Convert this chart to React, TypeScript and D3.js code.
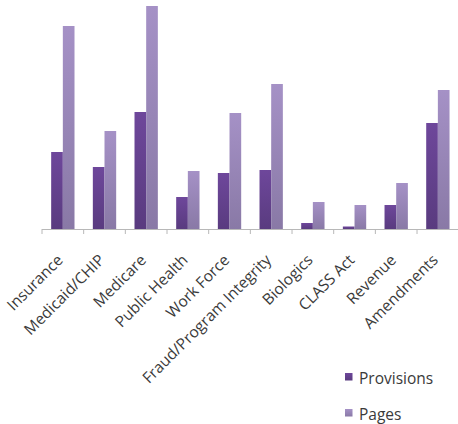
import React from "react";
import * as d3 from "d3";

const categories = [
  "Insurance",
  "Medicaid/CHIP",
  "Medicare",
  "Public Health",
  "Work Force",
  "Fraud/Program Integrity",
  "Biologics",
  "CLASS Act",
  "Revenue",
  "Amendments",
];
const seriesNames = ["Provisions", "Pages"];
const provisions = [77, 62, 117, 32, 56, 59, 6, 2.5, 24, 106];
const pages = [203, 98, 223, 58, 116, 145, 27, 24, 46, 139];

const W = 458;
const H = 424;
const baseY = 229;
const left = 42;
const right = 458.7;

const seriesColors: Record<string, [string, string]> = {
  Provisions: ["#6e479b", "#593b7f"],
  Pages: ["#a591c6", "#8979a6"],
};

export default function App() {
  const x = d3
    .scaleBand<string>()
    .domain(categories)
    .range([left, right])
    .paddingInner(0.44)
    .paddingOuter(0.22);
  const cells = d3.scaleBand<string>().domain(categories).range([left, right]).padding(0);
  const xs = d3.scaleBand<string>().domain(seriesNames).range([0, x.bandwidth()]);
  const y = d3.scaleLinear().domain([0, 230]).range([baseY, baseY - 230]);

  const rows = categories.map((c, i) => ({ c, vals: [provisions[i], pages[i]] }));
  const tickXs = [...categories.map((c) => cells(c)!), right];

  return (
    <div style={{ position: "absolute", left: 0, top: 0 }}>
      <svg width={W} height={H} style={{ display: "block", background: "#fff" }}>
        <defs>
          {seriesNames.map((s, i) => (
            <linearGradient key={s} id={`g${i}`} x1="0" y1="0" x2="0" y2="1">
              <stop offset="0%" stopColor={seriesColors[s][0]} />
              <stop offset="100%" stopColor={seriesColors[s][1]} />
            </linearGradient>
          ))}
        </defs>
        {rows.map((r) => (
          <g key={r.c} transform={`translate(${x(r.c)},0)`}>
            {seriesNames.map((s, j) => (
              <rect
                key={s}
                x={xs(s)}
                y={y(r.vals[j])}
                width={xs.bandwidth()}
                height={baseY - y(r.vals[j])}
                fill={`url(#g${j})`}
              />
            ))}
          </g>
        ))}
        <line x1={left} x2={right} y1={baseY + 0.5} y2={baseY + 0.5} stroke="#b8b8b8" strokeWidth={1} />
        {tickXs.map((tx, i) => (
          <line key={i} x1={tx} x2={tx} y1={baseY} y2={baseY + 5} stroke="#b8b8b8" strokeWidth={1} />
        ))}
        {categories.map((c) => (
          <text
            key={c}
            transform={`translate(${x(c)! + x.bandwidth() / 2 + 1},${baseY + 32}) rotate(-45)`}
            textAnchor="end"
            fontFamily="'Open Sans', sans-serif"
            fontSize={15.5}
            fill="#3a3a3a"
          >
            {c}
          </text>
        ))}
        {seriesNames.map((s, i) => (
          <g key={s} transform={`translate(345,${373 + i * 36})`}>
            <rect x={0} y={0} width={7.5} height={7.5} fill={`url(#g${i})`} />
            <text x={14} y={11} fontFamily="'Open Sans', sans-serif" fontSize={15.5} fill="#3a3a3a">
              {s}
            </text>
          </g>
        ))}
      </svg>
    </div>
  );
}
